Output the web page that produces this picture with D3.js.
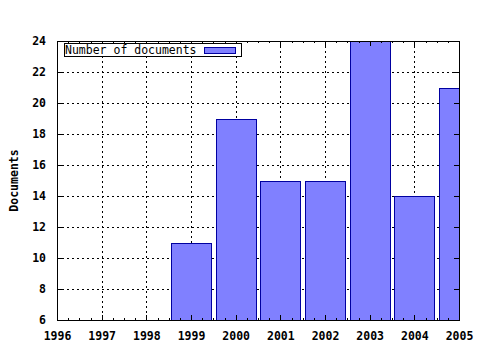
<!DOCTYPE html>
<html>
<head>
<meta charset="utf-8">
<script src="https://cdn.jsdelivr.net/npm/d3@7"></script>
<style>
body { margin: 0; background: #fff; }
text { font-family: "DejaVu Sans Mono", monospace; }
</style>
</head>
<body>
<div id="viz"></div>
<script>
// data
var years = [1999, 2000, 2001, 2002, 2003, 2004, 2005];
var docs = [11, 19, 15, 15, 24, 14, 21];
var xTicks = [1996, 1997, 1998, 1999, 2000, 2001, 2002, 2003, 2004, 2005];
var yTicks = [6, 8, 10, 12, 14, 16, 18, 20, 22, 24];

var W = 480, H = 350;
var pL = 57, pR = 459, pT = 41, pB = 320;

var svg = d3.select("#viz")
	.append("svg")
	.attr("width", W)
	.attr("height", H);

var x = d3.scaleLinear().domain([1996, 2005]).range([pL, pR]);
var y = d3.scaleLinear().domain([6, 24]).range([pB, pT]);

svg.append("clipPath").attr("id", "plot")
	.append("rect")
	.attr("x", pL).attr("y", pT)
	.attr("width", pR - pL).attr("height", pB - pT);

// grid
var grid = svg.append("g")
	.attr("stroke", "#000")
	.attr("stroke-width", 1)
	.attr("stroke-dasharray", "2,3")
	.attr("shape-rendering", "crispEdges");
grid.selectAll("line.gx")
	.data(xTicks.slice(1, -1))
	.enter().append("line")
	.attr("x1", function(d){ return Math.round(x(d)) + 0.5; })
	.attr("x2", function(d){ return Math.round(x(d)) + 0.5; })
	.attr("y1", pT).attr("y2", pB);
grid.selectAll("line.gy")
	.data(yTicks.slice(1, -1))
	.enter().append("line")
	.attr("y1", function(d){ return Math.round(y(d)) + 0.5; })
	.attr("y2", function(d){ return Math.round(y(d)) + 0.5; })
	.attr("x1", pL).attr("x2", pR);

// bars
var bw = (x(1997) - x(1996)) * 0.9;
svg.append("g")
	.attr("clip-path", "url(#plot)")
	.selectAll("rect")
	.data(years)
	.enter().append("rect")
	.attr("x", function(d){ return Math.round(x(d) - bw / 2) + 0.5; })
	.attr("width", Math.round(bw))
	.attr("y", function(d, i){ return Math.round(y(docs[i])) + 0.5; })
	.attr("height", function(d, i){ return Math.round(pB - y(docs[i])); })
	.attr("fill", "#8080ff")
	.attr("stroke", "#0000a0")
	.attr("stroke-width", 1)
	.attr("shape-rendering", "crispEdges");

// axes (gnuplot style, ticks inward, mirrored)
var xMinor = [];
xTicks.slice(0, -1).forEach(function(t){
	[0.25, 0.5, 0.75].forEach(function(f){ xMinor.push(t + f); });
});

var axisBottom = d3.axisBottom(x).tickValues(xTicks).tickFormat(d3.format("d")).tickSize(-5).tickPadding(12);
var axisTop = d3.axisTop(x).tickValues(xTicks).tickFormat("").tickSize(-5);
var axisLeft = d3.axisLeft(y).tickValues(yTicks).tickFormat(d3.format("d")).tickSize(-5).tickPadding(11);
var axisRight = d3.axisRight(y).tickValues(yTicks).tickFormat("").tickSize(-5);

function style(g){
	g.select(".domain").remove();
	g.selectAll("line").attr("stroke", "#000").attr("shape-rendering", "crispEdges");
	g.selectAll("text").attr("fill", "#000")
		.style("font-family", "'DejaVu Sans Mono', monospace")
		.style("font-weight", "bold").style("font-size", "11.5px");
}

svg.append("g").attr("transform", "translate(0," + pB + ")").call(axisBottom).call(style);
svg.append("g").attr("transform", "translate(0," + pT + ")").call(axisTop).call(style);
svg.append("g").attr("transform", "translate(" + pL + ",0)").call(axisLeft).call(style);
svg.append("g").attr("transform", "translate(" + pR + ",0)").call(axisRight).call(style);

svg.append("g").attr("transform", "translate(0," + pB + ")")
	.call(d3.axisBottom(x).tickValues(xMinor).tickFormat("").tickSize(-2)).call(style);
svg.append("g").attr("transform", "translate(0," + pT + ")")
	.call(d3.axisTop(x).tickValues(xMinor).tickFormat("").tickSize(-2)).call(style);

// border
svg.append("rect")
	.attr("x", pL + 0.5).attr("y", pT + 0.5)
	.attr("width", pR - pL).attr("height", pB - pT)
	.attr("fill", "none").attr("stroke", "#000")
	.attr("shape-rendering", "crispEdges");

// y title
svg.append("text")
	.attr("transform", "translate(18," + ((pT + pB) / 2) + ") rotate(-90)")
	.attr("text-anchor", "middle")
	.style("font-weight", "bold").style("font-size", "11.5px")
	.text("Documents");

// legend
var lg = svg.append("g");
lg.append("rect")
	.attr("x", 64.5).attr("y", 43.5).attr("width", 177).attr("height", 13)
	.attr("fill", "#fff").attr("stroke", "#000")
	.attr("shape-rendering", "crispEdges");
lg.append("text")
	.attr("x", 65).attr("y", 54)
	.style("font-size", "11.5px")
	.text("Number of documents");
lg.append("rect")
	.attr("x", 204.5).attr("y", 47.5).attr("width", 31).attr("height", 6)
	.attr("fill", "#8080ff").attr("stroke", "#0000a0")
	.attr("shape-rendering", "crispEdges");
</script>
</body>
</html>
